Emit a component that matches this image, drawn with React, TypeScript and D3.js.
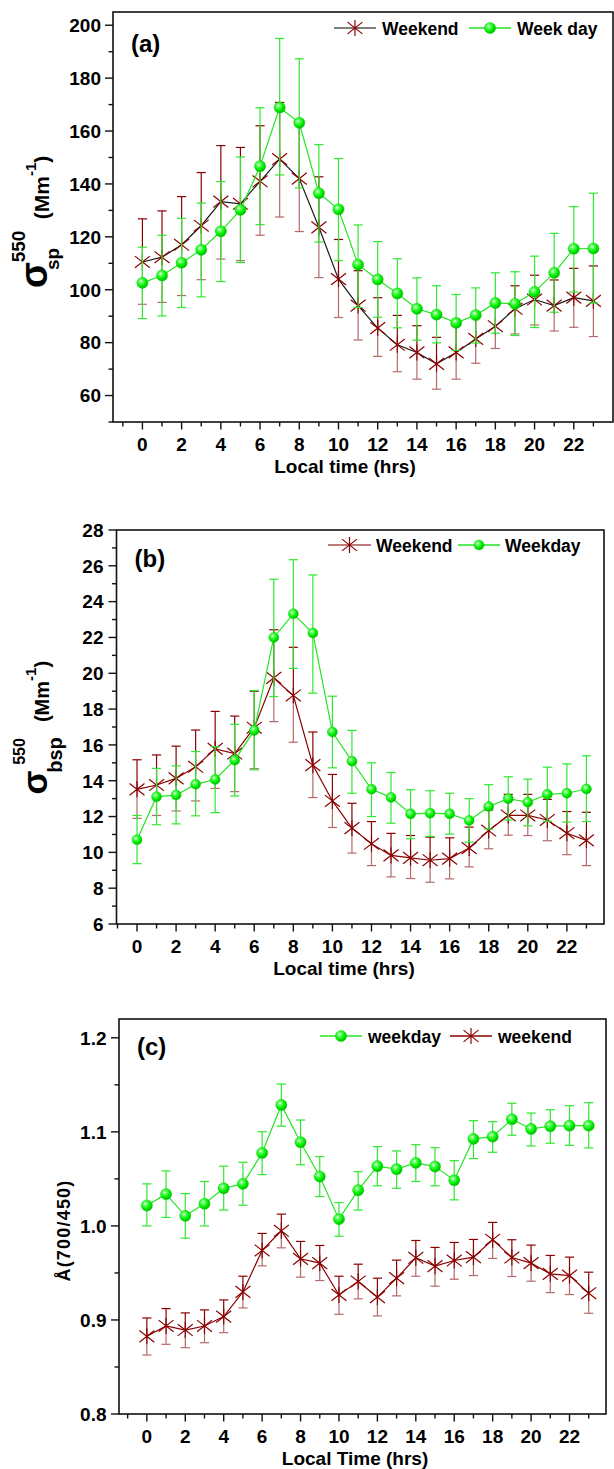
import React from 'react';
import * as d3 from 'd3';

const FONT = '"Liberation Sans", Arial, Helvetica, sans-serif';

const hours = [0, 1, 2, 3, 4, 5, 6, 7, 8, 9, 10, 11, 12, 13, 14, 15, 16, 17, 18, 19, 20, 21, 22, 23];
const xMajorTicks = [0, 2, 4, 6, 8, 10, 12, 14, 16, 18, 20, 22];
const xMinorTicks = [-1, 1, 3, 5, 7, 9, 11, 13, 15, 17, 19, 21, 23];

// Panel (a): sigma_sp 550
const aWeekend = [110.5, 112.3, 117, 124.2, 133.3, 132.5, 141, 149.4, 142, 123.6, 104, 94, 85.5, 79.2, 76.3, 72, 76.3, 81.4, 86.2, 92.8, 96.3, 94, 97, 95.8];
const aWeekendLo = [94.5, 95.2, 97.8, 103.8, 111.6, 111, 120.6, 127.5, 122, 104.6, 89.5, 81, 74.8, 69, 66.2, 62.4, 66.2, 72.2, 77.8, 83.3, 86.7, 84.4, 85.8, 82.3];
const aWeekendHi = [126.8, 129.8, 135.2, 144.3, 154.5, 153.8, 162, 170.8, 163, 142.7, 119, 107.2, 97, 90.3, 86.4, 82, 86.4, 89.8, 94.6, 101.5, 105.5, 103.7, 108.1, 109];
const aWeekday = [102.6, 105.4, 110.2, 115.1, 122.1, 130.2, 146.7, 168.9, 163.1, 136.5, 130.4, 109.5, 103.9, 98.6, 92.8, 90.6, 87.5, 90.4, 95, 94.7, 99.2, 106.4, 115.5, 115.6];
const aWeekdayLo = [89.1, 90.1, 93.3, 97.3, 103.1, 110.3, 124.6, 143.4, 138.5, 118, 111, 93.3, 89.6, 85.6, 80.9, 79.9, 77.1, 79.9, 83.6, 82.7, 85.7, 91.5, 99.1, 95];
const aWeekdayHi = [116.1, 120.6, 127, 132.8, 140.9, 150.2, 168.8, 195, 187.3, 154.9, 149.6, 124.5, 118.2, 111.7, 104.5, 101.5, 98.2, 100.7, 106.4, 106.8, 112.7, 121.3, 131.4, 136.5];
const aYMajor = [60, 80, 100, 120, 140, 160, 180, 200];
const aYMinor = [50, 70, 90, 110, 130, 150, 170, 190];

// Panel (b): sigma_bsp 550
const bWeekend = [13.52, 13.76, 14.13, 14.78, 15.78, 15.52, 16.96, 19.74, 18.76, 14.87, 12.87, 11.35, 10.48, 9.83, 9.69, 9.56, 9.65, 10.24, 11.22, 12.06, 12.06, 11.81, 11.07, 10.67];
const bWeekendLo = [11.9, 12.06, 12.31, 12.87, 13.57, 13.39, 14.67, 17.3, 16.15, 13.06, 11.39, 9.96, 9.26, 8.63, 8.54, 8.33, 8.52, 9.19, 10.2, 10.96, 10.94, 10.65, 9.87, 9.26];
const bWeekendHi = [15.17, 15.44, 15.93, 16.83, 17.87, 17.61, 19.0, 22.43, 21.45, 16.72, 14.35, 12.74, 11.72, 11.06, 10.94, 10.85, 10.81, 11.41, 12.37, 13.24, 13.24, 12.96, 12.28, 12.24];
const bWeekday = [10.7, 13.11, 13.2, 13.8, 14.07, 15.15, 16.81, 22.0, 23.32, 22.25, 16.72, 15.09, 13.52, 13.07, 12.15, 12.19, 12.15, 11.78, 12.56, 13.0, 12.8, 13.24, 13.3, 13.54];
const bWeekdayLo = [9.37, 11.54, 11.59, 12.04, 12.22, 13.15, 14.61, 18.7, 20.27, 18.89, 14.72, 13.3, 12.0, 11.63, 10.76, 10.89, 11.02, 10.57, 11.3, 11.81, 11.48, 11.74, 11.69, 11.72];
const bWeekdayHi = [12.06, 14.69, 14.83, 15.63, 15.9, 17.15, 19.04, 25.25, 26.34, 25.49, 18.72, 16.81, 15.0, 14.46, 13.5, 13.44, 13.3, 13.0, 13.78, 14.22, 14.09, 14.76, 14.94, 15.39];
const bYMajor = [6, 8, 10, 12, 14, 16, 18, 20, 22, 24, 26, 28];
const bYMinor = [7, 9, 11, 13, 15, 17, 19, 21, 23, 25, 27];

// Panel (c): Angstrom exponent
const cWeekday = [1.0217, 1.0338, 1.0107, 1.0235, 1.04, 1.0447, 1.0776, 1.1286, 1.089, 1.0525, 1.0072, 1.038, 1.0635, 1.0603, 1.067, 1.0631, 1.0486, 1.0925, 1.0949, 1.1134, 1.1031, 1.106, 1.1066, 1.1066];
const cWeekdayLo = [1.0, 1.009, 0.987, 1.0, 1.0168, 1.022, 1.0546, 1.106, 1.065, 1.0312, 0.989, 1.0168, 1.0426, 1.04, 1.0472, 1.0426, 1.0277, 1.0716, 1.0783, 1.0964, 1.085, 1.0879, 1.0857, 1.0829];
const cWeekdayHi = [1.0447, 1.0585, 1.0344, 1.0472, 1.0635, 1.0677, 1.1002, 1.1508, 1.1126, 1.0737, 1.0248, 1.0577, 1.0843, 1.0797, 1.0864, 1.0832, 1.0694, 1.1119, 1.1108, 1.1304, 1.12, 1.1236, 1.1278, 1.131];
const cWeekend = [0.8826, 0.8936, 0.8893, 0.8936, 0.9036, 0.9298, 0.9739, 0.9948, 0.965, 0.9604, 0.9266, 0.9409, 0.9242, 0.9444, 0.9661, 0.9572, 0.9632, 0.9668, 0.9853, 0.9664, 0.9604, 0.949, 0.9472, 0.9284];
const cWeekendLo = [0.8627, 0.8741, 0.8705, 0.8758, 0.8865, 0.9128, 0.9575, 0.9767, 0.9455, 0.9419, 0.906, 0.9224, 0.9043, 0.9256, 0.9465, 0.9359, 0.9433, 0.9472, 0.9654, 0.9462, 0.9412, 0.9291, 0.927, 0.9071];
const cWeekendHi = [0.9021, 0.9121, 0.9075, 0.9107, 0.9213, 0.9465, 0.992, 1.0125, 0.9835, 0.9792, 0.9465, 0.9593, 0.9444, 0.9636, 0.9845, 0.9771, 0.9824, 0.9856, 1.0037, 0.9853, 0.9796, 0.9686, 0.9668, 0.9508];
const cYMajor = [0.8, 0.9, 1.0, 1.1, 1.2];
const cYMinor = [0.85, 0.95, 1.05, 1.15];

const RED = '#8b0000';
const RED_LIGHT = '#b56a6a';
const GREEN_LINE = '#22e622';
const GREEN_BAR = '#2fe82f';

type Kind = 'star' | 'ball';
interface Series {
  mean: number[];
  lo: number[];
  hi: number[];
  kind: Kind;
  lineColor: string;
}

function starPath(cx: number, cy: number, s: number) {
  const v = 8 * s;
  const d = 9.5 * s;
  const a = (38 * Math.PI) / 180;
  const dx = d * Math.cos(a);
  const dy = d * Math.sin(a);
  return `M${cx},${cy - v}L${cx},${cy + v}M${cx - dx},${cy - dy}L${cx + dx},${cy + dy}M${cx - dx},${cy + dy}L${cx + dx},${cy - dy}`;
}

function Star({ x, y, s = 1 }: { x: number; y: number; s?: number }) {
  return <path d={starPath(x, y, s)} stroke={RED} strokeWidth={1.2} fill="none" />;
}

function Ball({ x, y, r }: { x: number; y: number; r: number }) {
  return <circle cx={x} cy={y} r={r} fill="url(#ballGrad)" stroke="#00c800" strokeWidth={0.4} />;
}

interface PanelProps {
  left: number; right: number; top: number; bottom: number;
  xDomain: [number, number];
  yDomain: [number, number];
  yMajor: number[]; yMinor: number[];
  yFmt: (v: number) => string;
  yLabelX: number;
  xTitle: string; xTitleX: number;
  tag: string; tagY: number;
  series: Series[];
  ballR: number;
}

function Panel(p: PanelProps) {
  const x = d3.scaleLinear().domain(p.xDomain).range([p.left, p.right]);
  const y = d3.scaleLinear().domain(p.yDomain).range([p.bottom, p.top]);
  const capW = 4.6;
  return (
    <g>
      {p.series.map((s, si) => {
        const line = d3.line<number>().x((_, i) => x(hours[i])).y((d) => y(d));
        const isRed = s.kind === 'star';
        return (
          <g key={si}>
            {hours.map((h, i) => {
              const cx = x(h);
              const ym = y(s.mean[i]);
              const yl = y(s.lo[i]);
              const yh = y(s.hi[i]);
              const upC = isRed ? RED : GREEN_BAR;
              const loC = isRed ? RED_LIGHT : GREEN_BAR;
              return (
                <g key={h} strokeWidth={1.2} fill="none">
                  <line x1={cx} x2={cx} y1={ym} y2={yh} stroke={upC} />
                  <line x1={cx - capW} x2={cx + capW} y1={yh} y2={yh} stroke={upC} />
                  <line x1={cx} x2={cx} y1={ym} y2={yl} stroke={loC} />
                  <line x1={cx - capW} x2={cx + capW} y1={yl} y2={yl} stroke={loC} />
                </g>
              );
            })}
            <path d={line(s.mean) || ''} fill="none" stroke={s.lineColor} strokeWidth={1.2} />
            {hours.map((h, i) =>
              s.kind === 'star' ? (
                <Star key={h} x={x(h)} y={y(s.mean[i])} />
              ) : (
                <Ball key={h} x={x(h)} y={y(s.mean[i])} r={p.ballR} />
              )
            )}
          </g>
        );
      })}
      <rect x={p.left} y={p.top} width={p.right - p.left} height={p.bottom - p.top} fill="none" stroke="#111" strokeWidth={1.6} />
      {p.yMajor.map((v) => (
        <g key={'ym' + v}>
          <line x1={p.left - 8} x2={p.left} y1={y(v)} y2={y(v)} stroke="#111" strokeWidth={1.4} />
          <text x={p.yLabelX} y={y(v) + 6.8} textAnchor="end" fontSize={19} fontWeight="bold" fontFamily={FONT} fill="#000">
            {p.yFmt(v)}
          </text>
        </g>
      ))}
      {p.yMinor.map((v) => (
        <line key={'yn' + v} x1={p.left - 4.5} x2={p.left} y1={y(v)} y2={y(v)} stroke="#111" strokeWidth={1.4} />
      ))}
      {xMajorTicks.map((v) => (
        <g key={'xm' + v}>
          <line x1={x(v)} x2={x(v)} y1={p.bottom} y2={p.bottom + 7.5} stroke="#111" strokeWidth={1.4} />
          <text x={x(v)} y={p.bottom + 29} textAnchor="middle" fontSize={19} fontWeight="bold" fontFamily={FONT} fill="#000">
            {v}
          </text>
        </g>
      ))}
      {xMinorTicks.map((v) => (
        <line key={'xn' + v} x1={x(v)} x2={x(v)} y1={p.bottom} y2={p.bottom + 4.5} stroke="#111" strokeWidth={1.4} />
      ))}
      <text x={p.xTitleX} y={p.bottom + 51} textAnchor="middle" fontSize={19} fontWeight="bold" fontFamily={FONT} fill="#000">
        {p.xTitle}
      </text>
      <text x={p.left + 18} y={p.tagY} fontSize={24} fontWeight="bold" fontFamily={FONT} fill="#000">
        {p.tag}
      </text>
    </g>
  );
}

function LegendItem({ x1, x2, y, kind, lineColor, label, tx, ballR }: { x1: number; x2: number; y: number; kind: Kind; lineColor: string; label: string; tx: number; ballR: number }) {
  const cx = (x1 + x2) / 2;
  return (
    <g>
      <line x1={x1} x2={x2} y1={y} y2={y} stroke={lineColor} strokeWidth={1.4} />
      {kind === 'star' ? <Star x={cx} y={y} /> : <Ball x={cx} y={y} r={ballR} />}
      <text x={tx} y={y + 6.5} fontSize={17.5} fontWeight="bold" fontFamily={FONT} fill="#000">
        {label}
      </text>
    </g>
  );
}

function RotText({ x, y, size, children }: { x: number; y: number; size: number; children: React.ReactNode }) {
  return (
    <text transform={`translate(${x},${y}) rotate(-90)`} textAnchor="middle" fontSize={size} fontWeight="bold" fontFamily={FONT} fill="#000">
      {children}
    </text>
  );
}

export default function App() {
  const fmtInt = d3.format('d');
  const fmt1 = d3.format('.1f');
  return (
    <svg width={614} height={1469} style={{ position: 'absolute', left: 0, top: 0, background: '#fff' }}>
      <defs>
        <radialGradient id="ballGrad" cx="0.38" cy="0.35" r="0.7">
          <stop offset="0" stopColor="#f0fff0" />
          <stop offset="0.22" stopColor="#66ff66" />
          <stop offset="0.6" stopColor="#00f000" />
          <stop offset="1" stopColor="#00b400" />
        </radialGradient>
      </defs>
      <rect x={0} y={0} width={614} height={1469} fill="#fff" />

      {/* Panel (a) */}
      <Panel
        left={113} right={613} top={12} bottom={422}
        xDomain={[-1.5, 24]} yDomain={[50, 205]}
        yMajor={aYMajor} yMinor={aYMinor} yFmt={fmtInt} yLabelX={101}
        xTitle="Local time (hrs)" xTitleX={345}
        tag="(a)" tagY={52}
        ballR={5.6}
        series={[
          { mean: aWeekend, lo: aWeekendLo, hi: aWeekendHi, kind: 'star', lineColor: '#1a1a1a' },
          { mean: aWeekday, lo: aWeekdayLo, hi: aWeekdayHi, kind: 'ball', lineColor: GREEN_LINE },
        ]}
      />
      <LegendItem x1={334} x2={376} y={28} kind="star" lineColor="#555" label="Weekend" tx={382} ballR={5.6} />
      <LegendItem x1={469} x2={511} y={28} kind="ball" lineColor={GREEN_LINE} label="Week day" tx={517} ballR={5.6} />
      <RotText x={47} y={275} size={38}>σ</RotText>
      <RotText x={25} y={246.5} size={19}>550</RotText>
      <RotText x={59} y={259} size={19}>sp</RotText>
      <RotText x={49} y={187.5} size={21}>
        (Mm<tspan dy={-13} fontSize={15}>-1</tspan><tspan dy={13}>)</tspan>
      </RotText>

      {/* Panel (b) */}
      <Panel
        left={116.5} right={604} top={530} bottom={924}
        xDomain={[-1.05, 23.9]} yDomain={[6, 28]}
        yMajor={bYMajor} yMinor={bYMinor} yFmt={fmtInt} yLabelX={103.5}
        xTitle="Local time (hrs)" xTitleX={344}
        tag="(b)" tagY={567}
        ballR={5}
        series={[
          { mean: bWeekend, lo: bWeekendLo, hi: bWeekendHi, kind: 'star', lineColor: RED },
          { mean: bWeekday, lo: bWeekdayLo, hi: bWeekdayHi, kind: 'ball', lineColor: GREEN_LINE },
        ]}
      />
      <LegendItem x1={328} x2={371} y={545} kind="star" lineColor="#a85050" label="Weekend" tx={376} ballR={5} />
      <LegendItem x1={458} x2={500} y={545} kind="ball" lineColor={GREEN_LINE} label="Weekday" tx={505} ballR={5} />
      <RotText x={47} y={782.5} size={35}>σ</RotText>
      <RotText x={25} y={751.5} size={16}>550</RotText>
      <RotText x={61.5} y={755} size={20}>bsp</RotText>
      <RotText x={49} y={691.5} size={20}>
        (Mm<tspan dy={-13} fontSize={15}>-1</tspan><tspan dy={13}>)</tspan>
      </RotText>

      {/* Panel (c) */}
      <Panel
        left={119} right={606} top={1019} bottom={1414}
        xDomain={[-1.45, 23.9]} yDomain={[0.8, 1.22]}
        yMajor={cYMajor} yMinor={cYMinor} yFmt={fmt1} yLabelX={106.5}
        xTitle="Local Time (hrs)" xTitleX={355}
        tag="(c)" tagY={1055}
        ballR={5.6}
        series={[
          { mean: cWeekend, lo: cWeekendLo, hi: cWeekendHi, kind: 'star', lineColor: RED },
          { mean: cWeekday, lo: cWeekdayLo, hi: cWeekdayHi, kind: 'ball', lineColor: GREEN_LINE },
        ]}
      />
      <LegendItem x1={320} x2={362} y={1036} kind="ball" lineColor={GREEN_LINE} label="weekday" tx={368} ballR={5.6} />
      <LegendItem x1={450} x2={492} y={1036} kind="star" lineColor={RED} label="weekend" tx={498} ballR={5.6} />
      <RotText x={70} y={1230.5} size={18}>
        <tspan letterSpacing={1.2}>Å(700/450)</tspan>
      </RotText>
    </svg>
  );
}
